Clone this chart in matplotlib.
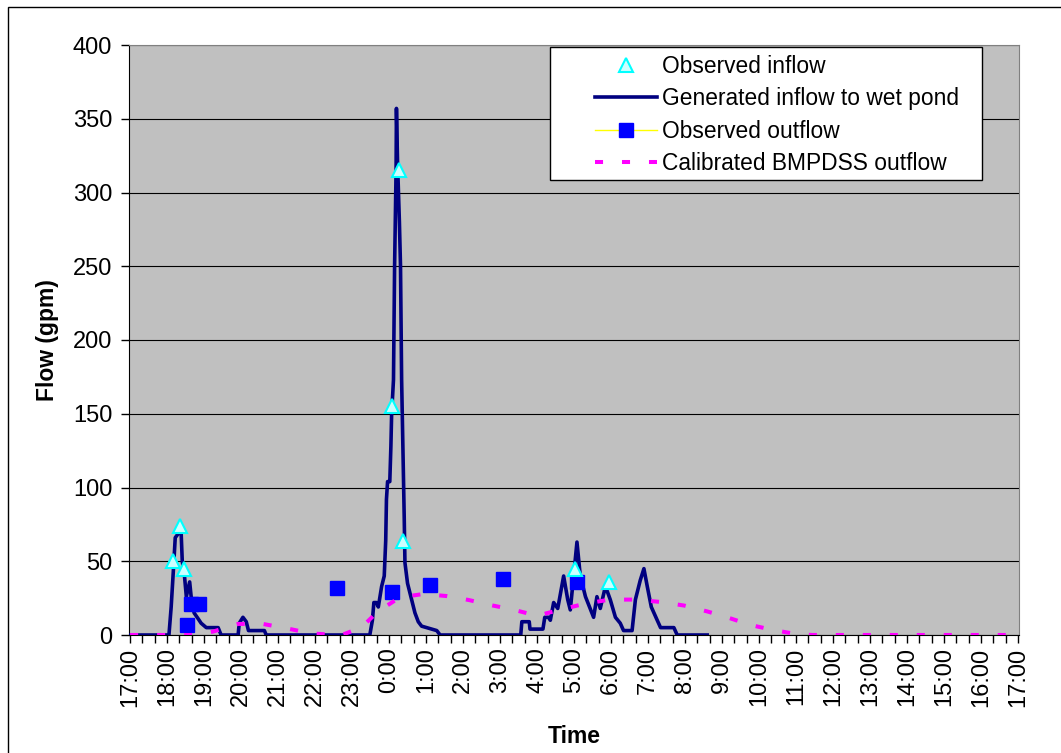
import matplotlib
matplotlib.use("Agg")
import matplotlib.pyplot as plt
from matplotlib.lines import Line2D
from matplotlib.patches import Rectangle

plt.rcParams['font.family'] = ['Liberation Sans', 'DejaVu Sans']

# time is hours after 17:00 on the first day
hour_labels = ['17:00', '18:00', '19:00', '20:00', '21:00', '22:00', '23:00',
               '0:00', '1:00', '2:00', '3:00', '4:00', '5:00', '6:00', '7:00',
               '8:00', '9:00', '10:00', '11:00', '12:00', '13:00', '14:00',
               '15:00', '16:00', '17:00']

# generated inflow to wet pond (gpm)
gen_t = [0, 1.05, 1.11, 1.17, 1.22, 1.31, 1.38, 1.41, 1.47, 1.52, 1.61, 1.65,
         1.73, 1.84, 1.92, 2.06, 2.38, 2.46, 2.92, 2.95, 3.05, 3.14, 3.20, 3.63,
         3.68, 6.48, 6.55, 6.59, 6.66, 6.71, 6.80, 6.87, 6.91, 6.93, 6.96, 7.02,
         7.05, 7.07, 7.12, 7.15, 7.19, 7.20, 7.23, 7.28, 7.31, 7.34, 7.38, 7.41,
         7.43, 7.50, 7.61, 7.70, 7.79, 7.88, 8.29, 8.38, 10.56, 10.59, 10.79,
         10.81, 11.16, 11.21, 11.31, 11.36, 11.45, 11.56, 11.59, 11.72, 11.83,
         11.90, 11.99, 12.08, 12.17, 12.31, 12.53, 12.62, 12.71, 12.85, 12.98,
         13.12, 13.25, 13.34, 13.57, 13.66, 13.79, 13.89, 13.98, 14.09, 14.25,
         14.34, 14.70, 14.79, 15.60]
gen_q = [0, 0, 19, 44, 66, 69, 69, 50, 40, 26, 36, 26,
         15, 11, 8, 5, 5, 0, 0, 8, 12, 9, 3, 3,
         0, 0, 10, 22, 22, 19, 33, 40, 64, 92, 104, 104,
         128, 150, 173, 250, 315, 357, 320, 280, 250, 173, 120, 80,
         49, 35, 24, 15, 9, 6, 3, 0, 0, 9, 9,
         4, 4, 12, 12, 10, 22, 18, 22, 40, 24,
         17, 40, 63, 40, 26, 12, 26, 18, 33, 24,
         12, 8, 3, 3, 24, 37, 45, 33, 19, 10,
         5, 5, 0, 0]

# observed inflow
obs_in_t = [1.17, 1.36, 1.47, 7.09, 7.27, 7.39, 12.02, 12.94]
obs_in_q = [50, 74, 45, 155, 315, 64, 45, 36]

# observed outflow
obs_out_t = [1.54, 1.65, 1.86, 5.58, 7.07, 8.10, 10.08, 12.08]
obs_out_q = [7, 21, 21, 32, 29, 34, 38, 36]

# calibrated BMPDSS outflow
cal_t = [0, 1.65, 1.92, 2.24, 2.92, 3.59, 4.24, 4.88, 5.58, 5.72, 6.26, 6.69,
         7.29, 7.93, 8.56, 9.16, 9.80, 10.39, 11.00, 11.60, 12.26, 12.96,
         13.66, 14.34, 14.97, 15.60, 16.14, 16.77, 17.38, 18.04, 18.45, 24]
cal_q = [0, 0, 1, 2.3, 7.5, 7.5, 4.5, 1.1, 0, 0, 5.2, 15.8,
         25.5, 27.8, 26.4, 23.7, 20, 17, 13, 17, 21, 24,
         24, 22.4, 20, 16, 12, 6.8, 3.4, 0.5, 0, 0]

W, H = 1061, 753
fig = plt.figure(figsize=(W / 100, H / 100), dpi=100)
ax = fig.add_axes([129 / W, 1 - 635 / H, 890 / W, 590 / H])
ax.set_facecolor('#C0C0C0')

ax.plot(gen_t, gen_q, color='#000080', lw=2.6, zorder=3)
ax.plot(obs_out_t, obs_out_q, ls='none', marker='s', ms=10, mfc='#0000FF',
        mec='#0000FF', zorder=4)
ax.plot(cal_t, cal_q, color='#FF00FF', lw=2.9, ls=(0, (2, 4.7)), zorder=5)
ax.plot(obs_in_t, obs_in_q, ls='none', marker='^', ms=10.5, mfc='#CCFFFF',
        mec='#00FFFF', mew=1.5, zorder=6)

ax.set_xlim(-0.03, 24.03)
ax.set_ylim(0, 400)
ax.set_yticks(range(0, 401, 50))
ax.set_xticks(range(25))
ax.set_xticklabels(hour_labels, rotation=90)
ax.set_xticks([i / 3 for i in range(73)], minor=True)
ax.tick_params(axis='both', labelsize=17, direction='out', length=6,
               width=1, color='black')
ax.tick_params(axis='x', which='minor', length=6, width=1)
ax.tick_params(axis='y', pad=6)
ax.tick_params(axis='x', pad=3)
ax.yaxis.grid(True, color='black', lw=0.8)
ax.set_axisbelow(True)
for s in ['top', 'right']:
    ax.spines[s].set_color('#808080')
for s in ['left', 'bottom']:
    ax.spines[s].set_color('black')

ax.set_ylabel('Flow (gpm)', fontsize=16.5, fontweight='bold', labelpad=10)
ax.set_xlabel('Time', fontsize=16.5, fontweight='bold', labelpad=13)

# legend box
fig.patches.append(Rectangle((550 / W, 1 - 180 / H), 432 / W, 133 / H,
                             transform=fig.transFigure, facecolor='white',
                             edgecolor='black', lw=1, zorder=10))
handles = [
    Line2D([], [], ls='none', marker='^', ms=10.5, mfc='#CCFFFF',
           mec='#00FFFF', mew=1.5),
    Line2D([], [], color='#000080', lw=2.6),
    Line2D([], [], color='yellow', lw=1, marker='s', ms=10, mfc='#0000FF',
           mec='#0000FF'),
    Line2D([], [], color='#FF00FF', lw=2.9, ls=(0, (2, 4.7))),
]
labels = ['Observed inflow', 'Generated inflow to wet pond',
          'Observed outflow', 'Calibrated BMPDSS outflow']
leg = fig.legend(handles, labels, loc='upper left',
                 bbox_to_anchor=(595 / W, 1 - 55 / H), frameon=False,
                 fontsize=16.4, handlelength=2.7, handletextpad=0.26,
                 labelspacing=0.41, borderpad=0, borderaxespad=0)
leg.set_zorder(11)

# outer chart border
fig.patches.append(Rectangle((7.5 / W, -0.1), 1.2, 1.1 - 7.5 / H,
                             transform=fig.transFigure, fill=False,
                             edgecolor='black', lw=1))

fig.savefig('out.png', dpi=100)
